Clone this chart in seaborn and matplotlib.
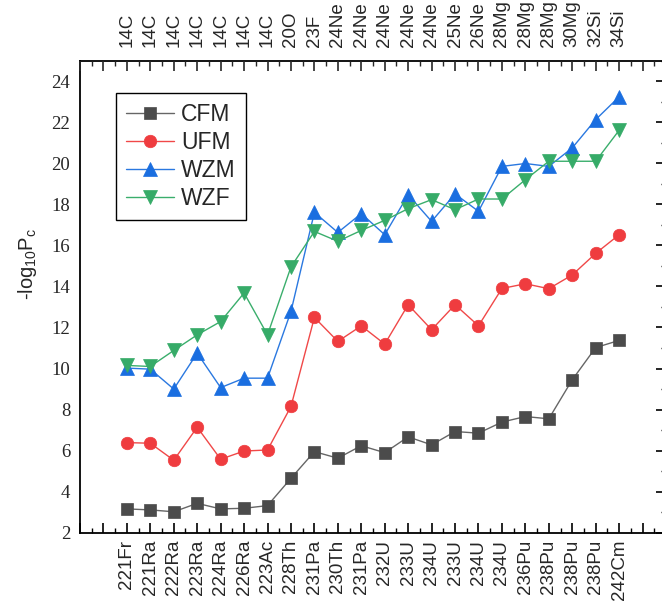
import numpy as np
import pandas as pd
import matplotlib
matplotlib.use("Agg")
import matplotlib.pyplot as plt
import seaborn as sns
from matplotlib.ticker import MultipleLocator, FixedLocator

# ---------------- data ----------------
parents = ["221Fr", "221Ra", "222Ra", "223Ra", "224Ra", "226Ra", "223Ac", "228Th",
           "231Pa", "230Th", "231Pa", "232U", "233U", "234U", "233U", "234U", "234U",
           "236Pu", "238Pu", "238Pu", "238Pu", "242Cm"]
clusters = ["14C", "14C", "14C", "14C", "14C", "14C", "14C", "20O", "23F",
            "24Ne", "24Ne", "24Ne", "24Ne", "24Ne", "25Ne", "26Ne",
            "28Mg", "28Mg", "28Mg", "30Mg", "32Si", "34Si"]

cfm = [3.16, 3.11, 3.02, 3.43, 3.16, 3.19, 3.32, 4.65, 5.95, 5.63, 6.24,
       5.90, 6.67, 6.28, 6.93, 6.85, 7.39, 7.66, 7.55, 9.45, 11.02, 11.37]
ufm = [6.39, 6.36, 5.53, 7.14, 5.58, 5.98, 6.03, 8.15, 12.49, 11.32, 12.08,
       11.19, 13.11, 11.89, 13.11, 12.08, 13.90, 14.13, 13.89, 14.56, 15.61, 16.52]
wzm = [10.02, 9.97, 9.00, 10.75, 9.07, 9.53, 9.53, 12.78, 17.61, 16.63, 17.55,
       16.52, 18.47, 17.17, 18.51, 17.66, 19.85, 19.99, 19.85, 20.75, 22.13, 23.24]
wzf = [10.15, 10.10, 10.88, 11.64, 12.29, 13.68, 11.64, 14.95, 16.68, 16.20, 16.73,
       17.22, 17.79, 18.23, 17.74, 18.26, 18.26, 19.20, 20.10, 20.10, 20.10, 21.61]
y_ticks = [2, 4, 6, 8, 10, 12, 14, 16, 18, 20, 22, 24]

series_names = ["CFM", "UFM", "WZM", "WZF"]
series_vals = [cfm, ufm, wzm, wzf]

# ---------------- styling ----------------
sns.set_style("white")
plt.rcParams["font.family"] = ["Liberation Sans", "DejaVu Sans"]
plt.rcParams["mathtext.fontset"] = "custom"
plt.rcParams["mathtext.rm"] = "Liberation Sans"
plt.rcParams["mathtext.it"] = "Liberation Sans"

line_colors = {"CFM": "#666666", "UFM": "#f04848", "WZM": "#2a78e0", "WZF": "#3aae6c"}
marker_colors = {"CFM": "#4b4b4b", "UFM": "#ef3c3f", "WZM": "#1a6ee0", "WZF": "#36ab68"}
markers = {"CFM": "s", "UFM": "o", "WZM": "^", "WZF": "v"}
msizes = {"CFM": 8, "UFM": 9, "WZM": 10.5, "WZF": 10.5}

x = np.arange(len(parents))
frames = []
for name, vals in zip(series_names, series_vals):
    frames.append(pd.DataFrame({"x": x, "y": vals, "model": name}))
df = pd.concat(frames, ignore_index=True)

fig = plt.figure(figsize=(6.62, 6.09), dpi=100)
ax = fig.add_axes([80 / 662, 1 - 532.7 / 609, 586 / 662, 472 / 609])

for name in series_names:
    sub = df[df["model"] == name]
    sns.lineplot(data=sub, x="x", y="y", ax=ax, color=line_colors[name],
                 marker=markers[name], markersize=msizes[name],
                 markerfacecolor=marker_colors[name], markeredgecolor=marker_colors[name],
                 markeredgewidth=0.5, linewidth=1.0, label=name, sort=False,
                 estimator=None)

ax.set_xlim(-2, 23)
ax.set_ylim(2, 25)

# x ticks bottom
major = list(range(-2, 24))
ax.xaxis.set_major_locator(FixedLocator(major))
ax.set_xticklabels([parents[i] if 0 <= i < len(parents) else "" for i in major],
                   rotation=90, fontsize=13.5)
ax.xaxis.set_minor_locator(MultipleLocator(0.5))
ax.set_xlabel("")

# y ticks (serif labels)
ax.set_yticks(y_ticks)
ax.set_yticklabels([str(t) for t in y_ticks],
                   fontdict={"family": "Liberation Serif", "size": 13.5})
ax.yaxis.set_minor_locator(MultipleLocator(1))
ax.set_ylabel(r"-log$_{10}$P$_{\rm c}$", fontsize=14.5)
ax.yaxis.set_label_coords(-0.07, 0.57)

ax.tick_params(axis="both", which="major", direction="in", length=7, width=1.2,
               color="black", top=False, right=True, pad=5)
ax.tick_params(axis="y", which="major", pad=7)
ax.tick_params(axis="both", which="minor", direction="in", length=3.5, width=1.0,
               color="black", top=False, right=True)
for sp in ax.spines.values():
    sp.set_visible(True)
    sp.set_color("black")
    sp.set_linewidth(1.3)

# top axis with cluster labels
ax2 = ax.twiny()
ax2.set_xlim(ax.get_xlim())
ax2.xaxis.set_major_locator(FixedLocator(major))
ax2.set_xticklabels([clusters[i] if 0 <= i < len(clusters) else "" for i in major],
                    rotation=90, fontsize=13.5)
ax2.xaxis.set_minor_locator(MultipleLocator(0.5))
ax2.tick_params(axis="x", which="major", direction="in", length=7, width=1.2, pad=10)
ax2.tick_params(axis="x", which="minor", direction="in", length=3.5, width=1.0)
for sp in ax2.spines.values():
    sp.set_visible(False)

leg = ax.legend(loc="upper left", bbox_to_anchor=(36 / 586, 1 - 32 / 472), fontsize=16.5,
                frameon=True, fancybox=False, shadow=False, framealpha=1,
                edgecolor="black", handlelength=2.1, handletextpad=0.3,
                labelspacing=0.22, borderpad=0.45, borderaxespad=0.0)
leg.get_frame().set_linewidth(1.0)

fig.canvas.draw()
for lab in ax.get_yticklabels():
    lab.set_fontfamily(["Liberation Serif", "DejaVu Serif"])
    lab.set_fontsize(13.5)

fig.savefig("out.png", dpi=100)
